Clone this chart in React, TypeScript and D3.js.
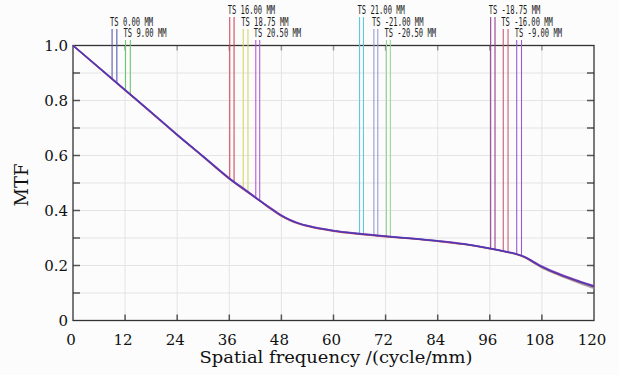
import { useRef, useEffect } from 'react'
import * as d3 from 'd3'

// spatial frequency samples (cycle/mm) and MTF curves
const FREQ = [0, 6, 12, 18, 24, 30, 36, 40, 43, 46, 48, 50, 52, 54, 57, 60, 66, 72, 78, 84, 90, 96, 100, 102, 104, 106, 108, 111, 114, 117, 120]
const MTF_BLUE = [1.0, 0.919, 0.838, 0.757, 0.675, 0.596, 0.516, 0.47, 0.436, 0.402, 0.381, 0.365, 0.353, 0.344, 0.334, 0.326, 0.315, 0.306, 0.298, 0.289, 0.278, 0.262, 0.249, 0.242, 0.231, 0.213, 0.195, 0.174, 0.156, 0.139, 0.123]
const MTF_PURPLE = [1.0, 0.92, 0.839, 0.758, 0.676, 0.597, 0.518, 0.472, 0.437, 0.404, 0.383, 0.366, 0.354, 0.345, 0.335, 0.327, 0.316, 0.307, 0.299, 0.29, 0.279, 0.263, 0.25, 0.243, 0.232, 0.215, 0.197, 0.176, 0.158, 0.141, 0.126]
const MTF_RED = [1.0, 0.919, 0.837, 0.756, 0.674, 0.595, 0.515, 0.469, 0.435, 0.401, 0.38, 0.364, 0.352, 0.343, 0.333, 0.325, 0.314, 0.305, 0.297, 0.288, 0.277, 0.261, 0.248, 0.241, 0.23, 0.212, 0.194, 0.173, 0.155, 0.138, 0.122]
const MTF_GRAY = [1.0, 0.919, 0.838, 0.757, 0.675, 0.596, 0.516, 0.47, 0.436, 0.402, 0.381, 0.365, 0.353, 0.344, 0.334, 0.326, 0.315, 0.306, 0.298, 0.289, 0.278, 0.262, 0.249, 0.242, 0.23, 0.211, 0.192, 0.171, 0.152, 0.134, 0.117]
const SERIES_COLORS = ['#9a9a9a', '#d0405a', '#8a3ab8', '#3a3ab8']

// field legend: T and S marker positions
const FIELD_LABELS = ['TS 0.00 MM', 'TS 9.00 MM', 'TS 16.00 MM', 'TS 18.75 MM', 'TS 20.50 MM', 'TS 21.00 MM', 'TS -21.00 MM', 'TS -20.50 MM', 'TS -18.75 MM', 'TS -16.00 MM', 'TS -9.00 MM']
const FIELD_ROW = [1, 2, 0, 1, 2, 0, 1, 2, 0, 1, 2]
const FIELD_T = [9.0, 12.1, 36.1, 39.2, 42.1, 66.0, 69.3, 72.2, 96.2, 99.1, 102.2]
const FIELD_S = [10.1, 13.2, 37.1, 40.3, 43.0, 66.9, 70.2, 73.1, 97.2, 100.2, 103.3]
const FIELD_COLORS = ['#5a5ab0', '#6cc86c', '#d24a5c', '#d6d46a', '#b45ad2', '#5ccad8', '#9a9ad4', '#9ad69a', '#8e428e', '#c85a7a', '#9a5ad0']

const X_TICKS = [0, 12, 24, 36, 48, 60, 72, 84, 96, 108, 120]
const Y_TICKS = [0, 0.2, 0.4, 0.6, 0.8, 1.0]
const Y_MINOR = [0.1, 0.2, 0.3, 0.4, 0.5, 0.6, 0.7, 0.8, 0.9]

export default function App() {
  const svgRef = useRef<SVGSVGElement>(null)

  useEffect(() => {
    if (!svgRef.current) return
    const svg = d3.select(svgRef.current)
    svg.selectAll('*').remove()

    const width = 619
    const height = 375
    const left = 73, right = 594, top = 45.5, bottom = 320.5

    const x = d3.scaleLinear().domain([0, 120]).range([left, right])
    const y = d3.scaleLinear().domain([0, 1]).range([bottom, top])
    const curveAt = d3.scaleLinear().domain(FREQ).range(MTF_BLUE)

    svg.append('rect').attr('width', width).attr('height', height).attr('fill', '#fcfcfc')

    // grid
    svg.append('g').selectAll('line').data(X_TICKS.slice(1, -1)).join('line')
      .attr('x1', d => x(d)).attr('x2', d => x(d)).attr('y1', top).attr('y2', bottom)
      .attr('stroke', '#e4e4e4').attr('stroke-width', 1)
    svg.append('g').selectAll('line').data(Y_MINOR).join('line')
      .attr('x1', left).attr('x2', right).attr('y1', d => y(d)).attr('y2', d => y(d))
      .attr('stroke', '#e4e4e4').attr('stroke-width', 1)

    // inner ticks
    const tk = svg.append('g').attr('stroke', '#555').attr('stroke-width', 1.5)
    X_TICKS.slice(1, -1).forEach(d => {
      tk.append('line').attr('x1', x(d)).attr('x2', x(d)).attr('y1', bottom).attr('y2', bottom - 6)
      tk.append('line').attr('x1', x(d)).attr('x2', x(d)).attr('y1', top).attr('y2', top + 5).attr('stroke', '#999')
    })
    Y_MINOR.forEach(d => {
      tk.append('line').attr('x1', left).attr('x2', left + 7).attr('y1', y(d)).attr('y2', y(d))
      tk.append('line').attr('x1', right).attr('x2', right - 7).attr('y1', y(d)).attr('y2', y(d))
    })

    // frame
    svg.append('rect').attr('x', left).attr('y', top).attr('width', right - left).attr('height', bottom - top)
      .attr('fill', 'none').attr('stroke', '#333').attr('stroke-width', 1.3)

    // field markers
    const fg = svg.append('g')
    const rowBase = [14, 26, 37]
    const rowLineTop = [17, 29, 40]
    FIELD_LABELS.forEach((lab, i) => {
      const c = FIELD_COLORS[i]
      const y0 = rowLineTop[FIELD_ROW[i]]
      ;[FIELD_T[i], FIELD_S[i]].forEach(f => {
        fg.append('line')
          .attr('x1', x(f)).attr('x2', x(f))
          .attr('y1', y0).attr('y2', y(curveAt(f)))
          .attr('stroke', c).attr('stroke-width', 1.1)
      })
      fg.append('text')
        .attr('x', x(FIELD_T[i]) - 2).attr('y', rowBase[FIELD_ROW[i]])
        .attr('font-family', 'DejaVu Sans Mono').attr('font-size', 11.5)
        .attr('textLength', lab.length * 4.3).attr('lengthAdjust', 'spacingAndGlyphs')
        .attr('fill', '#1a1a1a')
        .text(lab)
    })

    // MTF curves
    const line = d3.line<number>().x((_, i) => x(FREQ[i])).y(d => y(d)).curve(d3.curveMonotoneX)
    ;[MTF_GRAY, MTF_RED, MTF_PURPLE, MTF_BLUE].forEach((s, i) => {
      svg.append('path').datum(s).attr('d', line)
        .attr('fill', 'none').attr('stroke', SERIES_COLORS[i])
        .attr('stroke-width', i === 3 ? 1.4 : 1.6).attr('opacity', i === 3 ? 0.85 : 0.9)
    })

    // tick labels
    svg.append('g').selectAll('text').data(X_TICKS).join('text')
      .attr('x', d => x(d) - 2).attr('y', 345)
      .attr('text-anchor', 'middle')
      .attr('font-family', 'DejaVu Serif').attr('font-size', 15).attr('fill', '#111')
      .text(d => String(d))
    svg.append('g').selectAll('text').data(Y_TICKS).join('text')
      .attr('x', left - 5).attr('y', d => y(d) + 5.5)
      .attr('text-anchor', 'end')
      .attr('font-family', 'DejaVu Serif').attr('font-size', 15).attr('fill', '#111')
      .text(d => (d === 0 ? '0' : d.toFixed(1)))

    // axis titles
    svg.append('text')
      .attr('x', 336).attr('y', 363)
      .attr('text-anchor', 'middle')
      .attr('font-family', 'DejaVu Serif').attr('font-size', 17).attr('fill', '#111')
      .attr('textLength', 273).attr('lengthAdjust', 'spacingAndGlyphs')
      .text('Spatial frequency /(cycle/mm)')
    svg.append('text')
      .attr('transform', 'rotate(-90)')
      .attr('x', -185).attr('y', 28)
      .attr('text-anchor', 'middle')
      .attr('font-family', 'DejaVu Serif').attr('font-size', 18).attr('fill', '#111')
      .text('MTF')
  }, [])

  return (
    <svg ref={svgRef} width={619} height={375}
      style={{ position: 'absolute', left: 0, top: 0, display: 'block' }} />
  )
}
